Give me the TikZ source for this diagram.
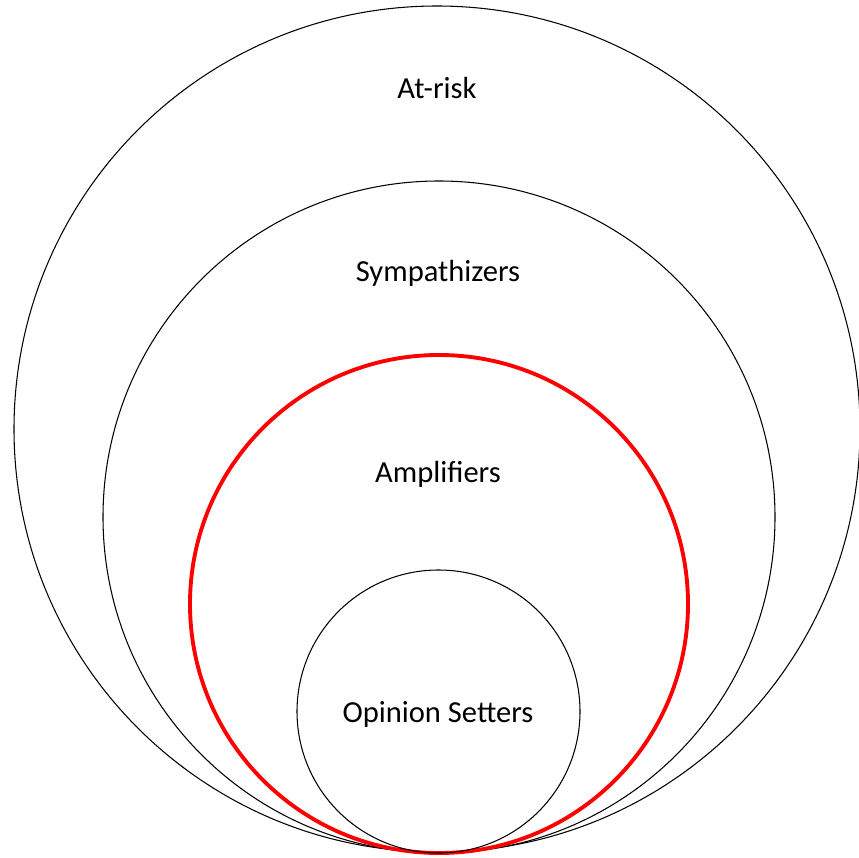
\documentclass[tikz,border=0pt]{standalone}
\usepackage{fontspec}
\setmainfont{Carlito}
\def\atriskcircle{(437,429) circle(423)}
\def\sympcircle{(439,517) circle(336)}
\def\amplcircle{(439,604) circle(249)}
\def\opinioncircle{(438.5,711.5) circle(141.5)}
\begin{document}
\begin{tikzpicture}[x=0.02cm,y=-0.02cm,
		ringlabel/.style={font=\fontsize{17.4}{20}\selectfont}]
				\useasboundingbox (0,0) rectangle (859,858);
				
				%drawing outlines of the circles
				\draw[line width=0.6pt] \atriskcircle;
				\draw[line width=0.6pt] \sympcircle;
				\draw[red,line width=2.2pt] \amplcircle;
				\draw[line width=0.6pt] \opinioncircle;
				
				\node[ringlabel] (atrisk) at (437,88){At-risk};
				\node[ringlabel] (symp) at (438,273){Sympathizers};
				\node[ringlabel] (ampl) at (438,474){Amplifiers};
				\node[ringlabel] (opinion) at (438,714){Opinion Setters};
			\end{tikzpicture}
\end{document}
